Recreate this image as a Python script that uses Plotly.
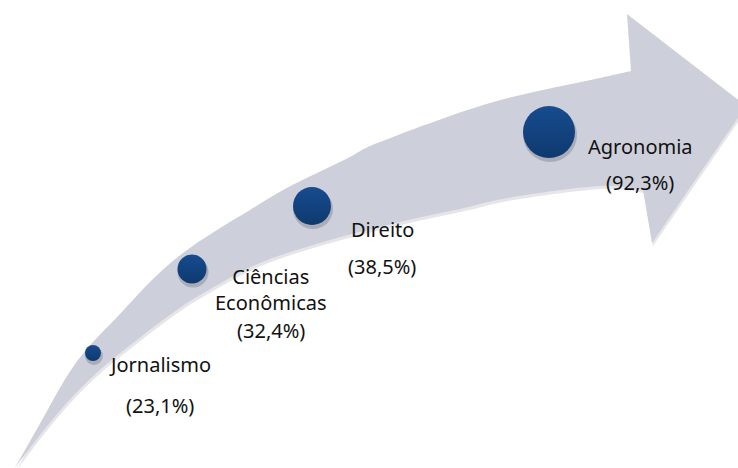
import plotly.graph_objects as go

# ---- data ----
courses = ["Jornalismo", "Ciências<br>Econômicas", "Direito", "Agronomia"]
values = [23.1, 32.4, 38.5, 92.3]
value_labels = ["(23,1%)", "(32,4%)", "(38,5%)", "(92,3%)"]

# ---- layout / style (pixel-space positions on a 738x468 canvas) ----
W, H = 738, 468
marker_x = [93, 192, 312, 549]
marker_y = [353, 269, 206, 132]
marker_size = [16, 29, 38, 52]
name_pos = [(160, 364), (271, 289), (382, 229), (640, 146)]
value_pos = [(160, 405), (271, 330), (382, 266), (640, 182)]

upper = [(15, 468), (42, 420), (64, 381), (86, 350), (119, 315), (153, 279),
         (183, 253), (217, 230), (250, 210), (283, 190), (317, 173), (350, 157),
         (380, 142), (490, 103), (600, 78), (631, 71)]
lower = [(643, 190), (600, 186), (513, 197), (460, 209), (400, 222), (330, 240),
         (260, 263), (200, 295), (167, 317), (133, 343), (102, 368), (74, 395),
         (44, 430), (15, 468)]
head = [(631, 71), (627, 14), (746, 106), (652, 243), (643, 190)]


def smooth(pts, start=True):
    s = f"M {pts[0][0]},{pts[0][1]} " if start else f"L {pts[0][0]},{pts[0][1]} "
    n = len(pts)
    for i in range(n - 1):
        p0 = pts[max(i - 1, 0)]
        p1 = pts[i]
        p2 = pts[i + 1]
        p3 = pts[min(i + 2, n - 1)]
        c1 = (p1[0] + (p2[0] - p0[0]) / 6, p1[1] + (p2[1] - p0[1]) / 6)
        c2 = (p2[0] - (p3[0] - p1[0]) / 6, p2[1] - (p3[1] - p1[1]) / 6)
        s += f"C {c1[0]:.1f},{c1[1]:.1f} {c2[0]:.1f},{c2[1]:.1f} {p2[0]},{p2[1]} "
    return s


def arrow_path(dx=0, dy=0):
    up = [(x + dx, y + dy) for x, y in upper]
    lo = [(x + dx, y + dy) for x, y in lower]
    p = smooth(up)
    for x, y in head[1:]:
        p += f"L {x + dx},{y + dy} "
    return p + smooth(lo, start=False) + "Z"


fig = go.Figure()

fig.add_shape(type="path", path=arrow_path(1, 3), xref="x", yref="y",
              fillcolor="rgba(140,140,150,0.22)", line=dict(width=0), layer="below")
fig.add_shape(type="path", path=arrow_path(), xref="x", yref="y",
              fillcolor="#CDD0DB", line=dict(width=0), layer="below")

# circle shadows
fig.add_trace(go.Scatter(
    x=[x + 1 for x in marker_x], y=[y + 3 for y in marker_y], mode="markers",
    marker=dict(size=[s + 2 for s in marker_size], color="rgba(90,90,100,0.30)",
                opacity=1, line=dict(width=0)),
    hoverinfo="skip", showlegend=False))

fig.add_trace(go.Scatter(
    x=marker_x, y=marker_y, mode="markers",
    marker=dict(size=marker_size, color="#174C8F", opacity=1, line=dict(width=0),
                gradient=dict(type="vertical", color="#0E396E")),
    customdata=values, text=courses,
    hovertemplate="%{text}: %{customdata}%<extra></extra>", showlegend=False))

font = dict(family="Noto Sans, Open Sans, sans-serif", size=20, color="#111111")
for name, (nx, ny), vl, (vx, vy) in zip(courses, name_pos, value_labels, value_pos):
    fig.add_annotation(x=nx, y=ny, text=name, showarrow=False, xanchor="center",
                       yanchor="middle", font=font, align="center")
    fig.add_annotation(x=vx, y=vy, text=vl, showarrow=False, xanchor="center",
                       yanchor="middle", font=font)

fig.update_layout(
    width=W, height=H,
    margin=dict(l=0, r=0, t=0, b=0),
    paper_bgcolor="white", plot_bgcolor="white",
    xaxis=dict(range=[0, W], visible=False, fixedrange=True),
    yaxis=dict(range=[H, 0], visible=False, fixedrange=True),
)

fig.write_html("out.html")
